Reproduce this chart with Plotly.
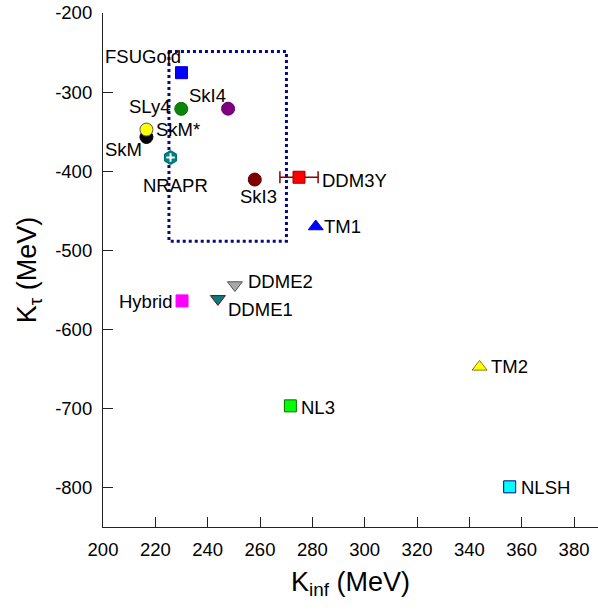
import plotly.graph_objects as go

# ---- data (MeV) ----
models = ["FSUGold", "SLy4", "SkI4", "SkM", "SkM*", "NRAPR", "SkI3", "DDM3Y",
          "TM1", "Hybrid", "DDME1", "DDME2", "TM2", "NL3", "NLSH"]
k_inf = [230.0, 229.9, 247.8, 216.6, 216.6, 225.8, 258.0, 274.9,
         281.3, 230.2, 243.9, 250.4, 343.9, 271.6, 355.4]
k_tau = [-275.5, -321.2, -321.0, -356.8, -347.4, -382.8, -410.6, -407.7,
         -470.0, -564.1, -561.5, -544.0, -647.5, -696.8, -799.2]
ddm3y_err = 7.3

box_x = [225.2, 270.1, 270.1, 225.2, 225.2]
box_y = [-248.6, -248.6, -488.6, -488.6, -248.6]

x_ticks = [200, 220, 240, 260, 280, 300, 320, 340, 360, 380]
y_ticks = [-200, -300, -400, -500, -600, -700, -800]
x_tick_labels = [str(v) for v in x_ticks]
y_tick_labels = ["-" + str(-v) for v in y_ticks]

# ---- styles ----
style = {
    "FSUGold": dict(symbol="square", color="#0000FF", line="#0000CC", size=12),
    "SLy4":    dict(symbol="circle", color="#0A840A", line="#0A6A0A", size=13),
    "SkI4":    dict(symbol="circle", color="#800080", line="#600060", size=13),
    "SkM":     dict(symbol="circle", color="#000000", line="#000000", size=13),
    "SkM*":    dict(symbol="circle", color="#FFFF00", line="#555555", size=13),
    "NRAPR":   dict(symbol="hexagon", color="#008080", line="#006868", size=14),
    "SkI3":    dict(symbol="circle", color="#800000", line="#600000", size=13),
    "DDM3Y":   dict(symbol="square", color="#FF0000", line="#990000", size=12),
    "TM1":     dict(symbol="triangle-up", color="#0000FF", line="#0000CC", size=13),
    "Hybrid":  dict(symbol="square", color="#FF00FF", line="#FF00FF", size=12),
    "DDME1":   dict(symbol="triangle-down", color="#008080", line="#800000", size=13),
    "DDME2":   dict(symbol="triangle-down", color="#A8A8A8", line="#555555", size=13),
    "TM2":     dict(symbol="triangle-up", color="#FFFF00", line="#808000", size=13),
    "NL3":     dict(symbol="square", color="#00FF00", line="#007000", size=12),
    "NLSH":    dict(symbol="square", color="#00FFFF", line="#000080", size=12),
}
# label placement: (xanchor, xshift px, yshift px)
label_pos = {
    "FSUGold": ("right", 1, 16),
    "SLy4":    ("right", -9, 2),
    "SkI4":    ("right", 0, 13),
    "SkM":     ("right", -2, -13),
    "SkM*":    ("left", 8, 0),
    "NRAPR":   ("center", 5, -28),
    "SkI3":    ("center", 4, -17),
    "DDM3Y":   ("left", 21, -3),
    "TM1":     ("left", 6, 0),
    "Hybrid":  ("right", -8, -1),
    "DDME1":   ("left", 8, -11),
    "DDME2":   ("left", 11, 4),
    "TM2":     ("left", 9, 0),
    "NL3":     ("left", 9, -2),
    "NLSH":    ("left", 9, -1),
}

FONT = "Liberation Sans, Arial, Helvetica, sans-serif"

fig = go.Figure()

# dotted box
fig.add_trace(go.Scatter(x=box_x, y=box_y, mode="lines",
                         line=dict(color="#0A0A80", width=3, dash="dot"),
                         hoverinfo="skip", showlegend=False))

for name, xv, yv in zip(models, k_inf, k_tau):
    st = style[name]
    err = None
    if name == "DDM3Y":
        err = dict(type="constant", value=ddm3y_err, color="#8B0000",
                   thickness=1.5, width=6)
    fig.add_trace(go.Scatter(
        x=[xv], y=[yv], mode="markers", name=name, showlegend=False,
        error_x=err,
        marker=dict(symbol=st["symbol"], size=st["size"], color=st["color"],
                    line=dict(color=st["line"], width=1))))
    if name == "NRAPR":
        fig.add_trace(go.Scatter(
            x=[xv], y=[yv], mode="markers", showlegend=False, hoverinfo="skip",
            marker=dict(symbol="cross-thin", size=6,
                        line=dict(color="white", width=2))))
    xa, xs, ys = label_pos[name]
    fig.add_annotation(x=xv, y=yv, text=name, showarrow=False,
                       xanchor=xa, yanchor="middle", xshift=xs, yshift=ys,
                       font=dict(family=FONT, size=18.5, color="black"))

axis_common = dict(showgrid=False, zeroline=False, showline=True,
                   linecolor="#222222", linewidth=1.2, ticks="inside",
                   ticklen=10, tickcolor="#222222", tickwidth=1,
                   automargin=False, ticklabeloverflow="allow",
                   tickfont=dict(family=FONT, size=18.5, color="black"))

fig.update_layout(
    width=598, height=612,
    margin=dict(l=103, r=0, t=13, b=85),
    plot_bgcolor="white", paper_bgcolor="white",
    xaxis=dict(range=[200, 389.15], tickmode="array", tickvals=x_ticks,
               ticktext=x_tick_labels,
               title=dict(text="K<sub>inf</sub> (MeV)",
                          font=dict(family=FONT, size=27, color="black"),
                          standoff=12),
               ticklabelstandoff=6, **axis_common),
    yaxis=dict(range=[-850, -200], tickmode="array", tickvals=y_ticks,
               ticktext=y_tick_labels,
               title=dict(text="K<sub>τ</sub> (MeV)",
                          font=dict(family=FONT, size=27, color="black"),
                          standoff=10),
               ticklabelstandoff=6, **axis_common),
)

# remove the default 8px page margin so the figure fills the window exactly
fig.write_html("out.html", config={"displayModeBar": False},
               post_script="document.body.style.margin='0px';")
